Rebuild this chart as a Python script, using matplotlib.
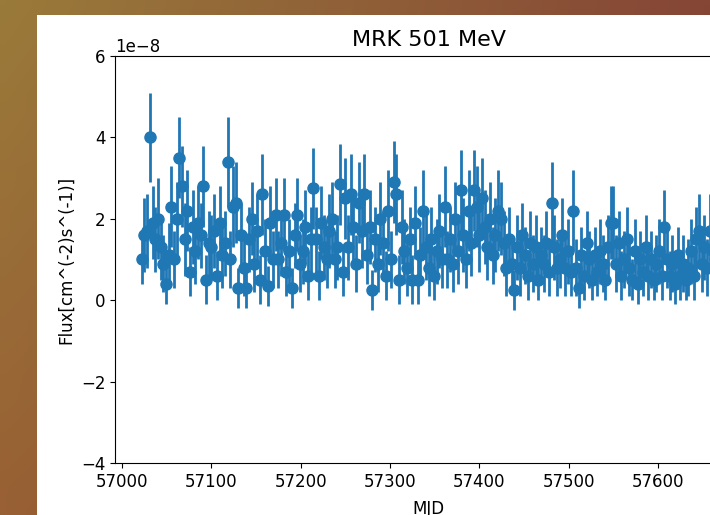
import numpy as np
import matplotlib
matplotlib.use("Agg")
import matplotlib.pyplot as plt
from matplotlib.patches import Rectangle

# 3-day bins, MJD start / step
mjd_start = 57022
mjd_step = 3

# flux in units of 1e-8 cm^-2 s^-1
flux = [
    1.0, 1.6, 1.7, 4.0, 1.9, 1.5, 2.0, 1.3, 0.9, 0.4,
    1.1, 2.3, 1.0, 2.0, 3.5, 2.8, 1.5, 2.2, 0.7, 1.8,
    1.2, 1.9, 1.6, 2.8, 0.5, 1.4, 1.3, 1.7, 0.6, 1.9,
    1.1, 1.4, 3.4, 1.0, 2.3, 2.4, 0.3, 1.6, 0.8, 0.3,
    1.5, 2.0, 0.9, 1.7, 0.5, 2.6, 1.2, 0.35, 1.9, 1.0,
    2.1, 1.0, 1.4, 2.1, 0.7, 1.2, 0.3, 1.6, 2.1, 0.9,
    1.2, 1.8, 0.6, 1.5, 2.75, 1.5, 0.6, 1.9, 1.3, 1.0,
    1.7, 2.0, 1.0, 1.3, 2.85, 0.7, 2.5, 1.3, 2.6, 1.8,
    0.9, 2.4, 1.7, 2.6, 1.1, 1.8, 0.25, 1.5, 0.9, 2.0,
    1.4, 0.6, 2.2, 1.0, 2.9, 2.6, 0.5, 1.8, 1.2, 0.8,
    1.5, 0.5, 1.9, 0.5, 1.1, 2.2, 1.3, 0.8, 1.5, 0.6,
    1.2, 1.7, 1.0, 2.3, 1.0, 1.5, 0.9, 2.0, 1.2, 2.7,
    1.6, 1.0, 2.2, 1.4, 2.7, 2.3, 1.6, 2.5, 1.8, 1.3,
    2.0, 1.1, 1.6, 2.2, 2.0, 1.4, 0.8, 1.5, 0.9, 0.25,
    1.3, 0.8, 1.6, 1.1, 0.6, 1.4, 0.9, 1.3, 0.5, 1.1,
    0.9, 1.4, 0.7, 2.4, 1.3, 0.8, 1.0, 1.6, 0.8, 1.2,
    0.7, 2.2, 0.8, 0.3, 1.1, 0.6, 1.4, 1.0, 0.5, 1.1,
    0.7, 1.2, 0.9, 0.5, 1.3, 1.9, 1.9, 0.9, 1.4, 0.6,
    1.0, 1.5, 0.8, 0.5, 1.2, 0.4, 1.0, 0.7, 1.3, 0.6,
    1.0, 0.5, 0.9, 1.2, 0.6, 1.8, 1.0, 0.6, 0.9, 0.4,
    1.1, 0.6, 0.9, 0.5, 0.8, 1.2, 0.6, 1.5, 1.7, 0.9,
    1.3, 0.8, 1.7, 1.2, 1.0, 1.4, 0.9, 1.1, 0.8, 1.3,
]

flux_err = [
    0.6, 0.9, 0.9, 1.1, 0.9, 0.8, 1.0, 0.8, 0.7, 0.5,
    0.8, 1.0, 0.7, 0.9, 1.0, 1.0, 0.9, 1.0, 0.6, 0.9,
    0.8, 0.9, 0.8, 1.0, 0.6, 0.8, 0.8, 0.9, 0.6, 0.9,
    0.8, 0.8, 1.1, 0.7, 1.0, 1.0, 0.5, 0.8, 0.7, 0.5,
    0.8, 0.9, 0.7, 0.9, 0.6, 1.0, 0.8, 0.5, 0.9, 0.7,
    0.9, 0.7, 0.8, 0.9, 0.6, 0.8, 0.5, 0.8, 0.9, 0.7,
    0.8, 0.9, 0.6, 0.8, 1.0, 0.8, 0.6, 0.9, 0.8, 0.7,
    0.9, 0.9, 0.7, 0.8, 1.0, 0.6, 1.0, 0.8, 1.0, 0.9,
    0.7, 1.0, 0.9, 1.0, 0.7, 0.9, 0.5, 0.8, 0.7, 0.9,
    0.8, 0.6, 1.0, 0.7, 1.0, 1.0, 0.6, 0.9, 0.8, 0.7,
    0.8, 0.6, 0.9, 0.6, 0.7, 1.0, 0.8, 0.7, 0.8, 0.6,
    0.8, 0.9, 0.7, 1.0, 0.7, 0.8, 0.7, 0.9, 0.8, 1.0,
    0.9, 0.7, 1.0, 0.8, 1.0, 1.0, 0.9, 1.0, 0.9, 0.8,
    0.9, 0.7, 0.9, 1.0, 0.9, 0.8, 0.7, 0.8, 0.7, 0.5,
    0.8, 0.7, 0.8, 0.7, 0.6, 0.8, 0.7, 0.8, 0.5, 0.7,
    0.7, 0.8, 0.6, 1.0, 0.8, 0.7, 0.7, 0.9, 0.7, 0.8,
    0.6, 1.0, 0.7, 0.5, 0.7, 0.6, 0.8, 0.7, 0.5, 0.7,
    0.6, 0.8, 0.7, 0.5, 0.8, 0.9, 0.9, 0.7, 0.8, 0.6,
    0.7, 0.8, 0.7, 0.5, 0.8, 0.5, 0.7, 0.6, 0.8, 0.6,
    0.7, 0.5, 0.7, 0.8, 0.6, 0.9, 0.7, 0.6, 0.7, 0.5,
    0.7, 0.6, 0.7, 0.5, 0.7, 0.8, 0.6, 0.8, 0.9, 0.7,
    0.8, 0.7, 0.9, 0.8, 0.7, 0.8, 0.7, 0.7, 0.7, 0.8,
]

mjd = mjd_start + mjd_step * np.arange(len(flux))
flux = np.array(flux) * 1e-8
flux_err = np.array(flux_err) * 1e-8

fig = plt.figure(figsize=(7.10, 5.15), dpi=100)

# brownish desktop background behind the screenshot
bg = fig.add_axes([0, 0, 1, 1])
tl = np.array([154, 122, 58]) / 255
tr = np.array([134, 70, 54]) / 255
bl = np.array([152, 96, 52]) / 255
br = np.array([128, 62, 48]) / 255
u = np.linspace(0, 1, 64)[None, :, None]
v = np.linspace(0, 1, 48)[:, None, None]
grad = (1 - v) * ((1 - u) * tl + u * tr) + v * ((1 - u) * bl + u * br)
bg.imshow(grad, aspect="auto", extent=[0, 1, 0, 1], interpolation="bilinear")
bg.axis("off")

# white figure area of the screenshot
fig.patches.append(Rectangle((37 / 710, 0), 1, (515 - 15) / 515,
                             transform=fig.transFigure, facecolor="white",
                             edgecolor="none", zorder=1))

ax = fig.add_axes([115 / 710, 1 - 463 / 515, (742 - 115) / 710, (463 - 56) / 515])
ax.set_zorder(2)
ax.errorbar(mjd, flux, yerr=flux_err, fmt="o", markersize=8, elinewidth=2)
ax.set_xlim(56992, 57694)
ax.set_ylim(-4e-8, 6e-8)
ax.set_xticks([57000, 57100, 57200, 57300, 57400, 57500, 57600])
ax.tick_params(labelsize=12)
ax.yaxis.get_offset_text().set_fontsize(12)
ax.set_title("MRK 501 MeV", fontsize=16, pad=7)
ax.set_xlabel("MJD", fontsize=12, labelpad=7)
ax.set_ylabel("Flux[cm^(-2)s^(-1)]", fontsize=12)

fig.savefig("out.png", dpi=100)
